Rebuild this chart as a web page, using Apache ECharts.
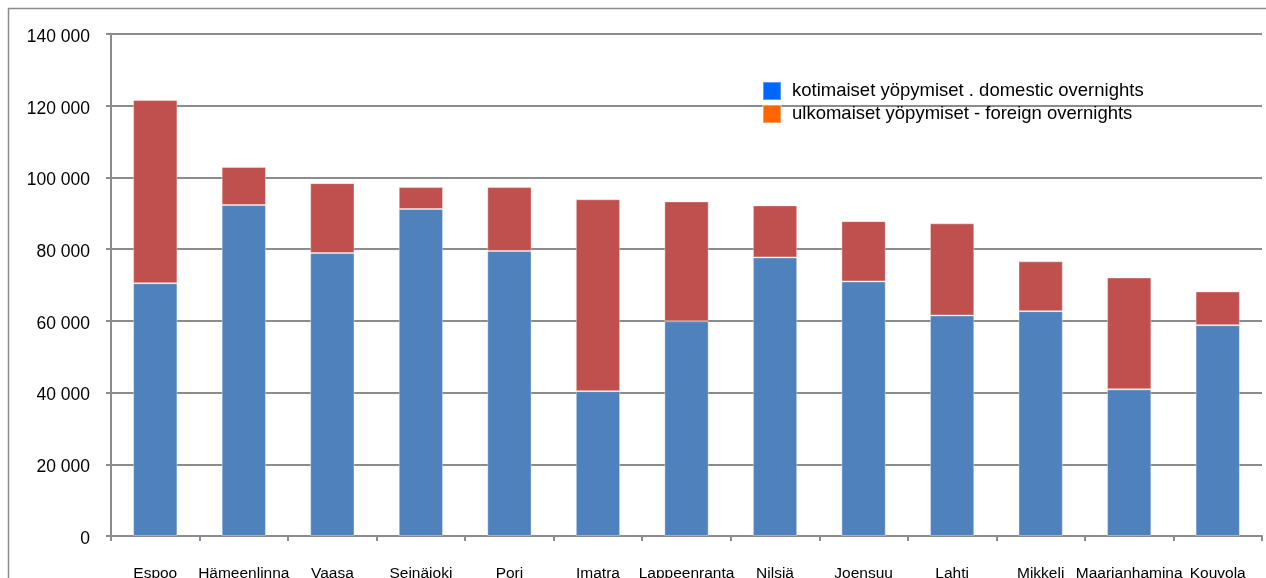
<!DOCTYPE html>
<html>
<head>
<meta charset="utf-8">
<script src="https://cdn.jsdelivr.net/npm/echarts@6/dist/echarts.min.js"></script>
<style>
  html, body { margin: 0; padding: 0; background: #fff; }
  #main { width: 1266px; height: 578px; }
</style>
</head>
<body>
<div id="main"></div>
<script>
// kaupungit
var categories = ['Espoo', 'Hämeenlinna', 'Vaasa', 'Seinäjoki', 'Pori', 'Imatra', 'Lappeenranta',
    'Nilsiä', 'Joensuu', 'Lahti', 'Mikkeli', 'Maarianhamina', 'Kouvola'];
// kotimaiset yöpymiset
var domestic = [70500, 92300, 78900, 91200, 79500, 40400, 59900, 77700, 71000, 61500, 62700, 40900, 58800];
// ulkomaiset yöpymiset
var foreign = [51100, 10600, 19500, 6100, 17800, 53500, 33400, 14500, 16800, 25700, 13900, 31200, 9400];
var seriesNames = ['kotimaiset yöpymiset . domestic overnights', 'ulkomaiset yöpymiset - foreign overnights'];
var yTicks = [0, 20000, 40000, 60000, 80000, 100000, 120000, 140000];

var myChart = echarts.init(document.getElementById('main'));

function fmt(v) {
    return String(v).replace(/\B(?=(\d{3})+(?!\d))/g, ' ');
}

var option = {
    animation: false,
    backgroundColor: '#fff',
    textStyle: { fontFamily: 'Liberation Sans, Arial, sans-serif' },
    graphic: [{
        type: 'rect',
        shape: { x: 8.5, y: 8.5, width: 1300, height: 620 },
        style: { fill: 'none', stroke: '#8c8c8c', lineWidth: 1.5 },
        z: -1
    }],
    grid: { left: 111, top: 34, right: 4, bottom: 42, outerBoundsMode: 'none' },
    legend: {
        orient: 'vertical',
        left: 757,
        top: 76,
        itemWidth: 18,
        itemHeight: 18,
        itemGap: 3,
        icon: 'rect',
        textStyle: { fontSize: 18.5, lineHeight: 18, color: '#000', padding: [0, 0, 0, 6] },
        data: [
            { name: seriesNames[0], itemStyle: { color: '#0066ff' } },
            { name: seriesNames[1], itemStyle: { color: '#ff6600' } }
        ]
    },
    xAxis: {
        type: 'category',
        data: categories,
        axisLine: { lineStyle: { color: '#8c8c8c', width: 2 } },
        axisTick: { show: true, length: 5, lineStyle: { color: '#8c8c8c', width: 2 } },
        axisLabel: { color: '#000', fontSize: 15.5, margin: 30, interval: 0 }
    },
    yAxis: {
        type: 'value',
        min: 0,
        max: 140000,
        interval: 20000,
        axisLine: { show: true, lineStyle: { color: '#8c8c8c', width: 2 } },
        axisTick: { show: true, length: 5, lineStyle: { color: '#8c8c8c', width: 2 } },
        splitLine: { lineStyle: { color: '#8c8c8c', width: 2 } },
        axisLabel: {
            color: '#000', fontSize: 17.5, margin: 21,
            verticalAlign: 'top', lineHeight: 6,
            formatter: function (v) { return yTicks.indexOf(v) >= 0 ? fmt(v) : ''; }
        }
    },
    series: [{
        name: seriesNames[0],
        type: 'bar',
        stack: 'total',
        barWidth: '50%',
        data: domestic,
        itemStyle: { color: '#4f81bd', borderColor: 'rgba(255,255,255,0.35)', borderWidth: 1 }
    }, {
        name: seriesNames[1],
        type: 'bar',
        stack: 'total',
        barWidth: '50%',
        data: foreign,
        itemStyle: { color: '#c0504d', borderColor: 'rgba(255,255,255,0.35)', borderWidth: 1 }
    }]
};

myChart.setOption(option);
</script>
</body>
</html>
